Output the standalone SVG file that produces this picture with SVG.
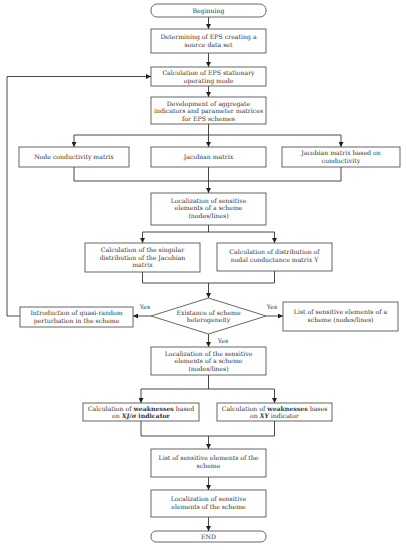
<svg xmlns="http://www.w3.org/2000/svg" width="406" height="550" viewBox="0 0 406 550">
<defs>
<marker id="ah" viewBox="0 0 6 6" refX="6" refY="3" markerWidth="5" markerHeight="5" markerUnits="userSpaceOnUse" orient="auto">
<path d="M0,0 L6,3 L0,6 z" fill="#222"/>
</marker>
<style>
.box{fill:#fff;stroke:#555;stroke-width:0.9}
.ln{fill:none;stroke:#333;stroke-width:0.9}
.ar{fill:none;stroke:#333;stroke-width:0.9;marker-end:url(#ah)}
text{font-family:"DejaVu Serif","Liberation Serif",serif;font-size:6.2px;fill:#333;text-anchor:middle}
.b{font-weight:bold}
.bi{font-weight:bold;font-style:italic}
</style>
</defs>
<rect width="406" height="550" fill="#fff"/>
<g id="connectors">
<line class="ar" x1="208.5" y1="17" x2="208.5" y2="29"/>
<line class="ar" x1="208.5" y1="53" x2="208.5" y2="67"/>
<line class="ar" x1="208.5" y1="86" x2="208.5" y2="97"/>
<line class="ln" x1="208.5" y1="124" x2="208.5" y2="135"/>
<line class="ln" x1="74" y1="135" x2="341" y2="135"/>
<line class="ar" x1="74" y1="135" x2="74" y2="147"/>
<line class="ar" x1="208.5" y1="135" x2="208.5" y2="147"/>
<line class="ar" x1="341" y1="135" x2="341" y2="147"/>
<polyline class="ln" points="74,167 74,181 341,181 341,167"/>
<line class="ln" x1="208.5" y1="167" x2="208.5" y2="181"/>
<line class="ar" x1="208.5" y1="181" x2="208.5" y2="193"/>
<line class="ln" x1="208.5" y1="225" x2="208.5" y2="232"/>
<line class="ln" x1="142.5" y1="232" x2="274.5" y2="232"/>
<line class="ar" x1="142.5" y1="232" x2="142.5" y2="243"/>
<line class="ar" x1="274.5" y1="232" x2="274.5" y2="243"/>
<polyline class="ln" points="142.5,272 142.5,283 274.5,283 274.5,271"/>
<line class="ar" x1="208.5" y1="283" x2="208.5" y2="298"/>
<line class="ar" x1="151" y1="316" x2="133" y2="316"/>
<polyline class="ar" points="20,316 7,316 7,76.5 151,76.5"/>
<line class="ar" x1="266" y1="316" x2="283" y2="316"/>
<line class="ar" x1="208.5" y1="334" x2="208.5" y2="347"/>
<line class="ln" x1="208.5" y1="375" x2="208.5" y2="389"/>
<line class="ln" x1="141" y1="389" x2="274.5" y2="389"/>
<line class="ar" x1="141" y1="389" x2="141" y2="403"/>
<line class="ar" x1="274.5" y1="389" x2="274.5" y2="403"/>
<polyline class="ln" points="141,421 141,436 274.5,436 274.5,421"/>
<line class="ar" x1="208.5" y1="436" x2="208.5" y2="449"/>
<line class="ar" x1="208.5" y1="477" x2="208.5" y2="490"/>
<line class="ar" x1="208.5" y1="517" x2="208.5" y2="531"/>
<text x="145" y="309">Yes</text>
<text x="272" y="309">Yes</text>
<text x="223" y="343">Yes</text>
</g>
<g id="n-begin"><rect class="box" x="151" y="4" width="115" height="13" rx="6"/><text x="208.5" y="12.8">Beginning</text></g>
<g id="n-determ"><rect class="box" x="151" y="29" width="115" height="24"/><text x="208.5" y="39">Determining of EPS creating a</text><text x="208.5" y="47">source data set</text></g>
<g id="n-calc-eps"><rect class="box" x="151" y="67" width="115" height="19"/><text x="208.5" y="75">Calculation of EPS stationary</text><text x="208.5" y="82.5">operating mode</text></g>
<g id="n-develop"><rect class="box" x="151" y="97" width="115" height="27"/><text x="208.5" y="105.5">Development of aggregate</text><text x="208.5" y="113">indicators and parameter matrices</text><text x="208.5" y="120.5">for EPS schemes</text></g>
<g id="n-node"><rect class="box" x="19" y="147" width="110" height="20"/><text x="74" y="159">Node conductivity matrix</text></g>
<g id="n-jac"><rect class="box" x="151" y="147" width="115" height="20"/><text x="208.5" y="159">Jacobian matrix</text></g>
<g id="n-jac-cond"><rect class="box" x="282" y="147" width="118" height="20"/><text x="341" y="155">Jacobian matrix based on</text><text x="341" y="162.5">conductivity</text></g>
<g id="n-local1"><rect class="box" x="151" y="193" width="115" height="32"/><text x="208.5" y="202.5">Localization of sensitive</text><text x="208.5" y="210">elements of a scheme</text><text x="208.5" y="217.5">(nodes/lines)</text></g>
<g id="n-singular"><rect class="box" x="85" y="243" width="115" height="29"/><text x="142.5" y="252">Calculation of the singular</text><text x="142.5" y="259.5">distribution of the Jacobian</text><text x="142.5" y="267">matrix</text></g>
<g id="n-nodal"><rect class="box" x="217" y="243" width="115" height="28"/><text x="274.5" y="254">Calculation of distribution of</text><text x="274.5" y="261.5">nodal conductance matrix Y</text></g>
<g id="n-exist"><polygon class="box" points="208.5,298 266,316 208.5,334 151,316"/><text x="208.5" y="314.5">Existance of scheme</text><text x="208.5" y="322">heterogeneity</text></g>
<g id="n-intro"><rect class="box" x="20" y="307" width="113" height="20"/><text x="76.5" y="315">Introduction of quasi-random</text><text x="76.5" y="322.5">perturbation in the scheme</text></g>
<g id="n-list1"><rect class="box" x="283" y="302" width="115" height="29"/><text x="340.5" y="314">List of sensitive elements of a</text><text x="340.5" y="321.5">scheme (nodes/lines)</text></g>
<g id="n-local2"><rect class="box" x="151" y="347" width="115" height="28"/><text x="208.5" y="355.5">Localization of the sensitive</text><text x="208.5" y="363">elements of a scheme</text><text x="208.5" y="370.5">(nodes/lines)</text></g>
<g id="n-weak1"><rect class="box" x="83" y="403" width="116" height="18"/><text x="141" y="410.5">Calculation of <tspan class="b">weaknesses</tspan> based</text><text x="141" y="418">on <tspan class="bi">XJ/σ</tspan> <tspan class="b">indicator</tspan></text></g>
<g id="n-weak2"><rect class="box" x="217" y="403" width="115" height="18"/><text x="274.5" y="410.5">Calculation of <tspan class="b">weaknesses</tspan> bases</text><text x="274.5" y="418">on <tspan class="bi">XY</tspan> indicator</text></g>
<g id="n-list2"><rect class="box" x="151" y="449" width="115" height="28"/><text x="208.5" y="460">List of sensitive elements of the</text><text x="208.5" y="467.5">scheme</text></g>
<g id="n-local3"><rect class="box" x="151" y="490" width="115" height="27"/><text x="208.5" y="501">Localization of sensitive</text><text x="208.5" y="508.5">elements of the scheme</text></g>
<g id="n-end"><rect class="box" x="151" y="531" width="115" height="11" rx="5"/><text x="208.5" y="538.8">END</text></g>
</svg>
